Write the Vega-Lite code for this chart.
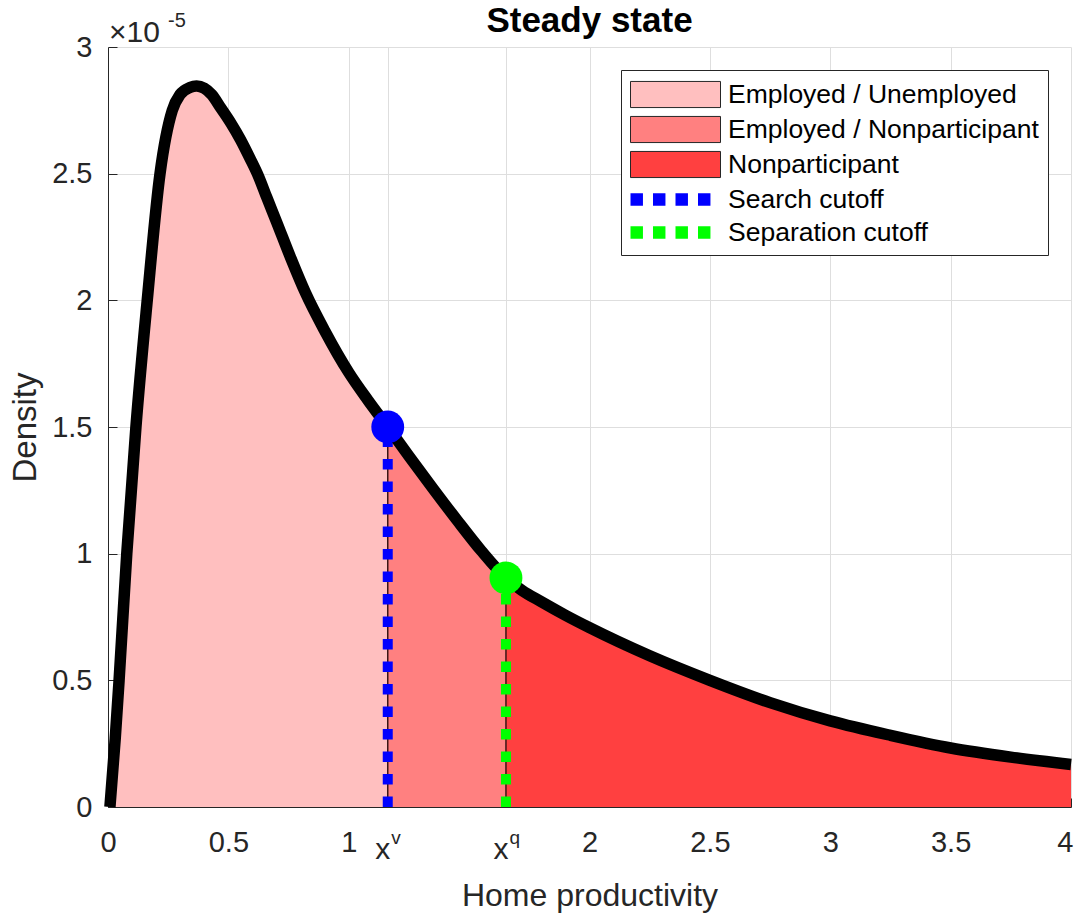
{
  "$schema": "https://vega.github.io/schema/vega-lite/v6.json",
  "width": 963,
  "height": 760,
  "autosize": {"type": "none"},
  "padding": {"left": 108, "top": 47, "right": 7, "bottom": 108},
  "background": "white",
  "title": {"text": "Steady state", "fontSize": 35, "fontWeight": "bold", "color": "#000000", "font": "Liberation Sans", "offset": 7, "dy": 35, "anchor": "middle"},
  "config": {
    "font": "Liberation Sans",
    "view": {"stroke": null},
    "axis": {
      "labelFont": "Liberation Sans", "titleFont": "Liberation Sans",
      "labelColor": "#262626", "titleColor": "#262626",
      "domainColor": "#262626", "tickColor": "#262626",
      "gridColor": "#dedede", "gridWidth": 1,
      "titleFontWeight": "normal", "labelFontSize": 29, "titleFontSize": 32
    },
    "legend": {
      "symbolFillColor": "#ffffff",
      "symbolOpacity": 1,
      "symbolSize": 900,
      "symbolStrokeWidth": 1
    }
  },
  "datasets": {
    "curve": [
      {"x": 0.008, "density": 0, "series": "Employed / Unemployed"},
      {"x": 0.03, "density": 0.27e-5, "series": "Employed / Unemployed"},
      {"x": 0.046, "density": 0.5e-5, "series": "Employed / Unemployed"},
      {"x": 0.078, "density": 1.0e-5, "series": "Employed / Unemployed"},
      {"x": 0.116, "density": 1.5e-5, "series": "Employed / Unemployed"},
      {"x": 0.163, "density": 2.0e-5, "series": "Employed / Unemployed"},
      {"x": 0.216, "density": 2.5e-5, "series": "Employed / Unemployed"},
      {"x": 0.267, "density": 2.75e-5, "series": "Employed / Unemployed"},
      {"x": 0.299, "density": 2.812e-5, "series": "Employed / Unemployed"},
      {"x": 0.34, "density": 2.84e-5, "series": "Employed / Unemployed"},
      {"x": 0.368, "density": 2.846e-5, "series": "Employed / Unemployed"},
      {"x": 0.4, "density": 2.837e-5, "series": "Employed / Unemployed"},
      {"x": 0.431, "density": 2.812e-5, "series": "Employed / Unemployed"},
      {"x": 0.468, "density": 2.76e-5, "series": "Employed / Unemployed"},
      {"x": 0.51, "density": 2.7e-5, "series": "Employed / Unemployed"},
      {"x": 0.55, "density": 2.635e-5, "series": "Employed / Unemployed"},
      {"x": 0.59, "density": 2.56e-5, "series": "Employed / Unemployed"},
      {"x": 0.625, "density": 2.49e-5, "series": "Employed / Unemployed"},
      {"x": 0.66, "density": 2.405e-5, "series": "Employed / Unemployed"},
      {"x": 0.7, "density": 2.31e-5, "series": "Employed / Unemployed"},
      {"x": 0.76, "density": 2.165e-5, "series": "Employed / Unemployed"},
      {"x": 0.82, "density": 2.03e-5, "series": "Employed / Unemployed"},
      {"x": 0.9, "density": 1.88e-5, "series": "Employed / Unemployed"},
      {"x": 1.0, "density": 1.715e-5, "series": "Employed / Unemployed"},
      {"x": 1.08, "density": 1.605e-5, "series": "Employed / Unemployed"},
      {"x": 1.162, "density": 1.5e-5, "series": "Employed / Unemployed"},
      {"x": 1.162, "density": 1.5e-5, "series": "Employed / Nonparticipant"},
      {"x": 1.25, "density": 1.385e-5, "series": "Employed / Nonparticipant"},
      {"x": 1.35, "density": 1.257e-5, "series": "Employed / Nonparticipant"},
      {"x": 1.45, "density": 1.132e-5, "series": "Employed / Nonparticipant"},
      {"x": 1.55, "density": 1.012e-5, "series": "Employed / Nonparticipant"},
      {"x": 1.653, "density": 0.904e-5, "series": "Employed / Nonparticipant"},
      {"x": 1.653, "density": 0.904e-5, "series": "Nonparticipant"},
      {"x": 1.72, "density": 0.855e-5, "series": "Nonparticipant"},
      {"x": 1.8, "density": 0.81e-5, "series": "Nonparticipant"},
      {"x": 1.9, "density": 0.757e-5, "series": "Nonparticipant"},
      {"x": 2.0, "density": 0.708e-5, "series": "Nonparticipant"},
      {"x": 2.25, "density": 0.597e-5, "series": "Nonparticipant"},
      {"x": 2.5, "density": 0.5e-5, "series": "Nonparticipant"},
      {"x": 2.75, "density": 0.412e-5, "series": "Nonparticipant"},
      {"x": 3.0, "density": 0.34e-5, "series": "Nonparticipant"},
      {"x": 3.25, "density": 0.283e-5, "series": "Nonparticipant"},
      {"x": 3.5, "density": 0.233e-5, "series": "Nonparticipant"},
      {"x": 3.75, "density": 0.197e-5, "series": "Nonparticipant"},
      {"x": 4.0, "density": 0.168e-5, "series": "Nonparticipant"}
    ],
    "cutoffs": [
      {"x": 1.162, "base": 0, "density": 1.5e-5, "series": "Search cutoff"},
      {"x": 1.653, "base": 0, "density": 0.904e-5, "series": "Separation cutoff"}
    ]
  },
  "layer": [
    {
      "layer": [
        {
          "data": {"name": "curve"},
          "mark": {"type": "area", "interpolate": "monotone", "opacity": 1},
          "encoding": {
            "x": {
              "field": "x", "type": "quantitative",
              "scale": {"domain": [0, 4], "nice": false, "zero": false},
              "axis": {
                "values": [0, 0.5, 1, 1.162, 1.653, 2, 2.5, 3, 3.5, 4],
                "labelExpr": "datum.value == 1.162 || datum.value == 1.653 ? 'x' : format(datum.value, '~g')",
                "labelFontSize": {"condition": {"test": "datum.value == 1.162 || datum.value == 1.653", "value": 30}, "value": 29},
                "labelPadding": {"condition": {"test": "datum.value == 1.162 || datum.value == 1.653", "value": 60}, "value": 53},
                "labelAlign": {"condition": {"test": "datum.value == 1.162 || datum.value == 1.653 || datum.value == 4", "value": "right"}, "value": "center"},
                "labelOffset": {"condition": {"test": "datum.value == 1.162 || datum.value == 1.653 || datum.value == 4", "value": 2}, "value": 0},
                "labelBaseline": "alphabetic",
                "labelOverlap": false,
                "labelFlush": false,
                "tickSize": -9,
                "grid": true,
                "title": "Home productivity",
                "titleFontSize": 32,
                "titlePadding": 16
              }
            },
            "y": {
              "field": "density", "type": "quantitative", "stack": null,
              "scale": {"domain": [0, 3e-5], "nice": false},
              "axis": {
                "values": [0, 0.5e-5, 1e-5, 1.5e-5, 2e-5, 2.5e-5, 3e-5],
                "labelExpr": "format(datum.value * 100000, '~g')",
                "labelBaseline": "middle",
                "tickSize": -9,
                "labelPadding": 25,
                "grid": true,
                "title": "Density",
                "titleFontSize": 33,
                "titlePadding": 9
              }
            },
            "color": {
              "field": "series", "type": "nominal",
              "scale": {
                "domain": ["Employed / Unemployed", "Employed / Nonparticipant", "Nonparticipant", "Search cutoff", "Separation cutoff"],
                "range": ["#ffbfbf", "#ff8080", "#ff4040", "#0000ff", "#00ff00"]
              },
              "legend": {
                "title": null,
                "orient": "top-right",
                "offset": 23,
                "padding": 9,
                "strokeColor": "#262626",
                "fillColor": "#ffffff",
                "labelFont": "Liberation Sans",
                "labelFontSize": 26.5,
                "labelColor": "#000000",
                "labelLimit": 0,
                "symbolSize": 900,
                "labelOffset": 67,
                "rowPadding": 4,
                "symbolStrokeWidth": 1,
                "symbolOpacity": 1
              }
            }
          }
        },
        {
          "data": {"name": "cutoffs"},
          "mark": {"type": "rule", "strokeWidth": 1.5, "color": "#3a1515"},
          "encoding": {
            "x": {"field": "x", "type": "quantitative"},
            "y": {"field": "base", "type": "quantitative"},
            "y2": {"field": "density"}
          }
        },
        {
          "data": {"name": "cutoffs"},
          "mark": {"type": "rule", "strokeWidth": 10, "strokeDash": [10.5, 12], "strokeCap": "butt"},
          "encoding": {
            "x": {"field": "x", "type": "quantitative"},
            "y": {"field": "base", "type": "quantitative"},
            "y2": {"field": "density"},
            "color": {"condition": {"test": "datum.series == 'Search cutoff'", "value": "#0000ff"}, "value": "#00ff00"}
          }
        },
        {
          "data": {"name": "curve"},
          "transform": [{"filter": "!(datum.series == 'Employed / Nonparticipant' && datum.x == 1.162) && !(datum.series == 'Nonparticipant' && datum.x == 1.653)"}],
          "mark": {"type": "line", "interpolate": "monotone", "color": "#000000", "strokeWidth": 11.5, "strokeCap": "butt", "strokeJoin": "round"},
          "encoding": {
            "x": {"field": "x", "type": "quantitative"},
            "y": {"field": "density", "type": "quantitative"}
          }
        },
        {
          "data": {"name": "cutoffs"},
          "mark": {"type": "point", "filled": true, "opacity": 0, "size": 900},
          "encoding": {
            "x": {"field": "x", "type": "quantitative"},
            "y": {"field": "density", "type": "quantitative"},
            "color": {"field": "series", "type": "nominal"},
            "shape": {
              "field": "series", "type": "nominal",
              "scale": {
                "domain": ["Employed / Unemployed", "Employed / Nonparticipant", "Nonparticipant", "Search cutoff", "Separation cutoff"],
                "range": ["M-1,-0.87H5V0.87H-1Z", "M-1,-0.87H5V0.87H-1Z", "M-1,-0.87H5V0.87H-1Z", "M-1,-0.42H-0.17V0.42H-1Z M0.5,-0.42H1.33V0.42H0.5Z M2,-0.42H2.83V0.42H2Z M3.5,-0.42H4.33V0.42H3.5Z", "M-1,-0.42H-0.17V0.42H-1Z M0.5,-0.42H1.33V0.42H0.5Z M2,-0.42H2.83V0.42H2Z M3.5,-0.42H4.33V0.42H3.5Z"]
              }
            },
            "stroke": {
              "field": "series", "type": "nominal",
              "scale": {
                "domain": ["Employed / Unemployed", "Employed / Nonparticipant", "Nonparticipant", "Search cutoff", "Separation cutoff"],
                "range": ["#262626", "#262626", "#262626", "rgba(0,0,0,0)", "rgba(0,0,0,0)"]
              }
            }
          }
        },
        {
          "data": {"values": [{"label": "×10"}]},
          "mark": {"type": "text", "align": "left", "baseline": "alphabetic", "fontSize": 30, "color": "#262626", "dx": 1, "dy": -5},
          "encoding": {
            "x": {"datum": 0, "type": "quantitative"},
            "y": {"datum": 3e-5, "type": "quantitative"},
            "text": {"field": "label", "type": "nominal"}
          }
        },
        {
          "data": {"values": [{"label": "-5"}]},
          "mark": {"type": "text", "align": "left", "baseline": "alphabetic", "fontSize": 20, "color": "#262626", "dx": 60, "dy": -20},
          "encoding": {
            "x": {"datum": 0, "type": "quantitative"},
            "y": {"datum": 3e-5, "type": "quantitative"},
            "text": {"field": "label", "type": "nominal"}
          }
        }
      ]
    },
    {
      "data": {"name": "cutoffs"},
      "mark": {"type": "circle", "size": 1080, "opacity": 1},
      "encoding": {
        "x": {
          "field": "x", "type": "quantitative",
          "scale": {"domain": [0, 4], "nice": false, "zero": false},
          "axis": {
            "orient": "bottom",
            "values": [1.162, 1.653],
            "labelExpr": "datum.value < 1.4 ? 'v' : 'q'",
            "ticks": false, "domain": false, "grid": false,
            "labelFontSize": 19,
            "labelAlign": "left",
            "labelOffset": 3,
            "labelBaseline": "alphabetic",
            "labelPadding": 36,
            "labelFlush": false,
            "labelOverlap": false,
            "title": null
          }
        },
        "y": {"field": "density", "type": "quantitative"},
        "color": {"condition": {"test": "datum.series == 'Search cutoff'", "value": "#0000ff"}, "value": "#00ff00"}
      }
    }
  ],
  "resolve": {"scale": {"x": "independent"}}
}
